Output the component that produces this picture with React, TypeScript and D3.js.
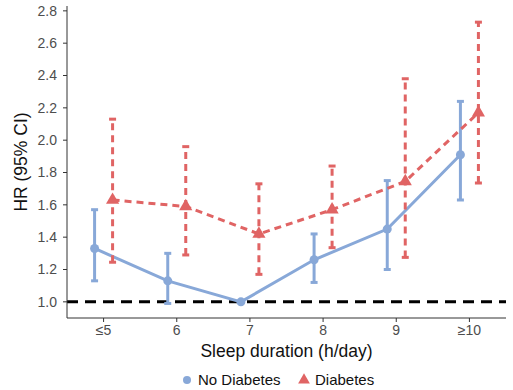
import * as d3 from "d3";

// sleep duration categories and hazard ratios
const categories = ["≤5", "6", "7", "8", "9", "≥10"];
const noDiabetesHR = [1.33, 1.13, 1.0, 1.26, 1.45, 1.91];
const noDiabetesLow = [1.13, 0.99, 1.0, 1.12, 1.2, 1.63];
const noDiabetesHigh = [1.57, 1.3, 1.0, 1.42, 1.75, 2.24];
const diabetesHR = [1.63, 1.59, 1.42, 1.57, 1.745, 2.17];
const diabetesLow = [1.245, 1.29, 1.17, 1.335, 1.275, 1.735];
const diabetesHigh = [2.13, 1.96, 1.73, 1.84, 2.38, 2.73];
const yTicks = [1.0, 1.2, 1.4, 1.6, 1.8, 2.0, 2.2, 2.4, 2.6, 2.8];

const blue = "#88a8d8";
const red = "#e06464";
const font = "Liberation Sans, Arial, sans-serif";

export default function App() {
  const width = 513;
  const height = 390;
  const left = 67, right = 506, top = 6, bottom = 318;

  const x = d3.scalePoint<string>().domain(categories).range([left, right]).padding(0.5);
  const y = d3.scaleLinear().domain([0.9, 2.83]).range([bottom, top]);
  const dodge = 9;

  const series = [
    { name: "No Diabetes", color: blue, hr: noDiabetesHR, lo: noDiabetesLow, hi: noDiabetesHigh, off: -dodge, dash: undefined as string | undefined },
    { name: "Diabetes", color: red, hr: diabetesHR, lo: diabetesLow, hi: diabetesHigh, off: dodge, dash: "7,5" },
  ];

  const line = (s: typeof series[0]) =>
    d3.line<number>().x((_, i) => x(categories[i])! + s.off).y((v) => y(v))(s.hr)!;

  const tri = d3.symbol().type(d3.symbolTriangle).size(75)()!;

  return (
    <svg width={width} height={height} style={{ position: "absolute", left: 0, top: 0, background: "#fff" }}>
      {/* reference line */}
      <line x1={left} x2={right} y1={y(1)} y2={y(1)} stroke="#000" strokeWidth={3} strokeDasharray="11,7" />

      {series.map((s) => (
        <g key={s.name}>
          {s.hr.map((_, i) => {
            const cx = x(categories[i])! + s.off;
            if (s.lo[i] === s.hi[i]) return null;
            return (
              <g key={i} stroke={s.color} strokeWidth={3}>
                <line x1={cx} x2={cx} y1={y(s.lo[i])} y2={y(s.hi[i])} strokeDasharray={s.dash} />
                <line x1={cx - 3.5} x2={cx + 3.5} y1={y(s.lo[i])} y2={y(s.lo[i])} />
                <line x1={cx - 3.5} x2={cx + 3.5} y1={y(s.hi[i])} y2={y(s.hi[i])} />
              </g>
            );
          })}
          <path d={line(s)} fill="none" stroke={s.color} strokeWidth={3} strokeDasharray={s.dash} />
          {s.hr.map((v, i) => {
            const cx = x(categories[i])! + s.off;
            return s.dash ? (
              <path key={i} d={tri} transform={`translate(${cx},${y(v)})`} fill={s.color} />
            ) : (
              <circle key={i} cx={cx} cy={y(v)} r={4.5} fill={s.color} />
            );
          })}
        </g>
      ))}

      {/* axes */}
      <line x1={left} x2={left} y1={top} y2={bottom} stroke="#333" strokeWidth={1} />
      <line x1={left} x2={right} y1={bottom} y2={bottom} stroke="#333" strokeWidth={1} />
      {yTicks.map((t) => (
        <g key={t}>
          <line x1={left - 4} x2={left} y1={y(t)} y2={y(t)} stroke="#333" />
          <text x={left - 10} y={y(t)} dy="0.35em" textAnchor="end" fontFamily={font} fontSize={14} fill="#4d4d4d">
            {t.toFixed(1)}
          </text>
        </g>
      ))}
      {categories.map((c) => (
        <g key={c}>
          <line x1={x(c)!} x2={x(c)!} y1={bottom} y2={bottom + 4} stroke="#333" />
          <text x={x(c)!} y={bottom + 17} textAnchor="middle" fontFamily={font} fontSize={14} fill="#4d4d4d">
            {c}
          </text>
        </g>
      ))}
      <text x={(left + right) / 2} y={357} textAnchor="middle" fontFamily={font} fontSize={17.5} fill="#111">
        Sleep duration (h/day)
      </text>
      <text transform={`translate(27,${(top + bottom) / 2}) rotate(-90)`} textAnchor="middle" fontFamily={font} fontSize={17.5} fill="#111">
        HR (95% CI)
      </text>

      {/* legend */}
      <circle cx={187} cy={380} r={4} fill={blue} />
      <text x={198} y={385} fontFamily={font} fontSize={15} fill="#111">No Diabetes</text>
      <path d={d3.symbol().type(d3.symbolTriangle).size(60)()!} transform="translate(304,380)" fill={red} />
      <text x={315} y={385} fontFamily={font} fontSize={15} fill="#111">Diabetes</text>
    </svg>
  );
}
